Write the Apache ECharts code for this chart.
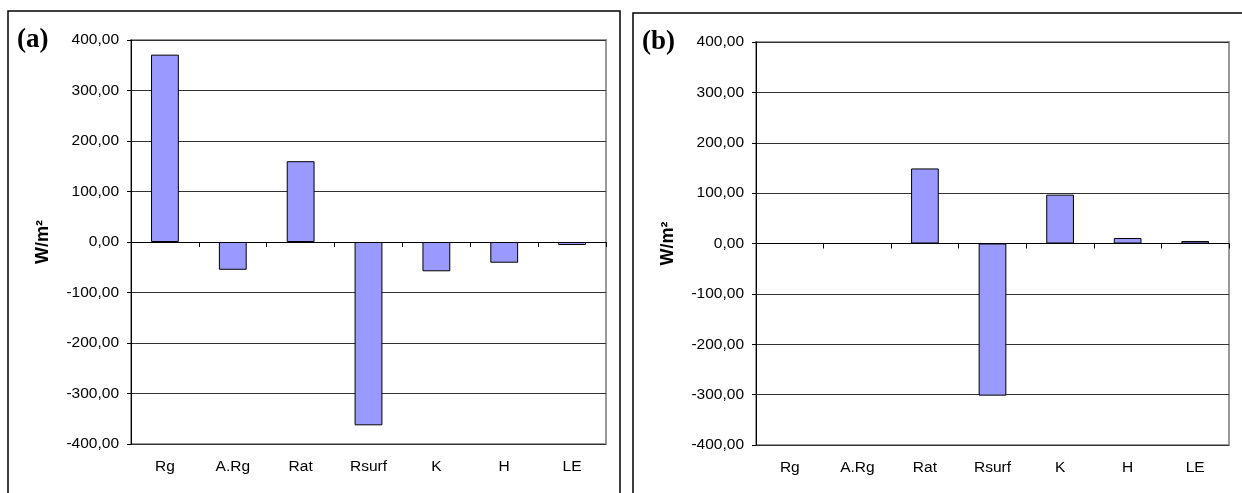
<!DOCTYPE html>
<html>
<head>
<meta charset="utf-8">
<script src="https://cdn.jsdelivr.net/npm/echarts@6/dist/echarts.min.js"></script>
<style>
html,body{margin:0;padding:0;background:#fff;}
#c{width:1242px;height:493px;}
</style>
</head>
<body>
<div id="c"></div>
<script>
const categories = ['Rg', 'A.Rg', 'Rat', 'Rsurf', 'K', 'H', 'LE'];
const valuesA = [371, -55, 160, -363, -58, -41, -6];
const valuesB = [null, null, 149, -302, 97, 11, 5];
const yMin = -400, yMax = 400, yStep = 100;
const panelLabels = ['(a)', '(b)'];
const yName = 'W/m²';

const FONT = '"Liberation Sans", Arial, sans-serif';
const chart = echarts.init(document.getElementById('c'));

function yAxis(gridIndex) {
  return {
    type: 'value', gridIndex, min: yMin, max: yMax, interval: yStep,
    name: yName, nameLocation: 'middle', nameRotate: 90, nameGap: 79,
    nameTextStyle: { fontFamily: FONT, fontSize: 18, fontWeight: 'bold', color: '#000' },
    axisLine: { show: true, lineStyle: { color: '#000', width: 1 } },
    axisTick: { show: true, length: 4, lineStyle: { color: '#000' } },
    axisLabel: {
      fontFamily: FONT, fontSize: 15.5, color: '#000', margin: 12,
      formatter: v => v.toFixed(2).replace('.', ',')
    },
    splitLine: { show: true, lineStyle: { color: '#333', width: 1 } }
  };
}
function xLabelAxis(gridIndex) {
  return {
    type: 'category', gridIndex, data: categories, position: 'bottom',
    axisLine: { show: false, onZero: false }, axisTick: { show: false },
    axisLabel: { fontFamily: FONT, fontSize: 15.5, color: '#000', margin: 15 },
    splitLine: { show: false }
  };
}
function xZeroAxis(gridIndex) {
  return {
    type: 'category', gridIndex, data: categories, position: 'bottom',
    axisLine: { show: true, onZero: true, lineStyle: { color: '#000', width: 1 } },
    axisTick: { show: true, alignWithLabel: false, length: 5, lineStyle: { color: '#000' } },
    axisLabel: { show: false },
    splitLine: { show: false }
  };
}
const barStyle = { color: '#9999ff', borderColor: '#000', borderWidth: 1 };

chart.setOption({
  animation: false,
  backgroundColor: '#fff',
  title: [
    { text: panelLabels[0], left: 12, top: 22, textStyle: { fontFamily: '"Liberation Serif", "Times New Roman", serif', fontSize: 27, fontWeight: 'bold', color: '#000' } },
    { text: panelLabels[1], left: 637, top: 24, textStyle: { fontFamily: '"Liberation Serif", "Times New Roman", serif', fontSize: 27, fontWeight: 'bold', color: '#000' } }
  ],
  graphic: [
    { type: 'rect', shape: { x: 8, y: 11, width: 612, height: 520 }, style: { fill: 'none', stroke: '#000', lineWidth: 1.5 }, z: 100 },
    { type: 'rect', shape: { x: 633, y: 13, width: 700, height: 520 }, style: { fill: 'none', stroke: '#000', lineWidth: 1.5 }, z: 100 }
  ],
  grid: [
    { left: 131, right: 636, top: 40, bottom: 49, show: true, borderColor: '#999', borderWidth: 2, backgroundColor: 'transparent' },
    { left: 756, right: 13, top: 42, bottom: 48, show: true, borderColor: '#999', borderWidth: 2, backgroundColor: 'transparent' }
  ],
  xAxis: [xLabelAxis(0), xZeroAxis(0), xLabelAxis(1), xZeroAxis(1)],
  yAxis: [yAxis(0), yAxis(1)],
  series: [
    { type: 'bar', xAxisIndex: 0, yAxisIndex: 0, data: valuesA, barWidth: '41%', itemStyle: barStyle, z: 3 },
    { type: 'bar', xAxisIndex: 2, yAxisIndex: 1, data: valuesB, barWidth: '41%', itemStyle: barStyle, z: 3 }
  ]
});
</script>
</body>
</html>
